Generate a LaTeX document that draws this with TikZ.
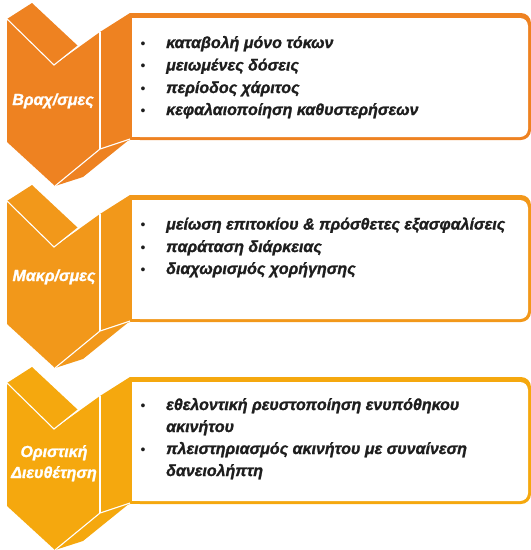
\documentclass[tikz,border=0pt]{standalone}
\usepackage{fontspec}
\setmainfont{Liberation Sans}[BoldItalicFeatures={FakeBold=1.3}]
\definecolor{cA}{RGB}{238,130,33}
\definecolor{cB}{RGB}{242,152,26}
\definecolor{cC}{RGB}{245,168,14}
\definecolor{txt}{RGB}{30,30,30}
\tikzset{
  fold/.style={white,line width=1.1pt},
  lbl/.style={anchor=base,text=white,font=\fontsize{16}{18}\selectfont\bfseries\itshape,inner sep=0pt},
  itm/.style={anchor=base west,text=txt,font=\fontsize{16}{18}\selectfont\bfseries\itshape,inner sep=0pt},
  bul/.style={anchor=base,text=txt,font=\fontsize{14}{16}\selectfont,inner sep=0pt}
}
\newcommand\chevrow[2]{%
 \begin{scope}[yshift=-#1pt]
  \fill[#2] (7,19) -- (32,3) -- (78,46) -- (54,65) -- cycle;
  \fill[#2] (7,19) -- (54,65) -- (100,32) -- (100,149) -- (55,186) -- (7,142) -- cycle;
  \fill[#2] (100,32) -- (130,13) -- (130,140) -- (100,149) -- cycle;
  \fill[#2] (100,149) -- (130,139) -- (83,177) -- (55,186) -- cycle;
  \fill[#2,rounded corners=10pt] (130,13) rectangle (531,140);
  \fill[#2] (130,13) rectangle (160,140);
  \fill[white,rounded corners=8pt] (132,18) rectangle (528,137);
  \fill[white] (132,18) rectangle (160,137);
  \draw[fold] (7,19) -- (54,65) -- (78,46);
  \draw[fold] (100,32) -- (100,149);
  \draw[fold] (130,139) -- (100,149) -- (55,186);
 \end{scope}}
\begin{document}
\begin{tikzpicture}[x=1pt,y=-1pt]
\useasboundingbox (0,0) rectangle (531,550);
\chevrow{0}{cA}
\chevrow{182}{cB}
\chevrow{364}{cC}
% row 1
\node[lbl] (l1) at (53,105) {Βραχ/σμες};
\node[bul] (b11) at (143,48) {•};
\node[itm] (t11) at (166,48) {καταβολή μόνο τόκων};
\node[bul] (b12) at (143,70.5) {•};
\node[itm] (t12) at (166,70.5) {μειωμένες δόσεις};
\node[bul] (b13) at (143,93) {•};
\node[itm] (t13) at (166,93) {περίοδος χάριτος};
\node[bul] (b14) at (143,115) {•};
\node[itm] (t14) at (166,115) {κεφαλαιοποίηση καθυστερήσεων};
% row 2
\node[lbl] (l2) at (54,281) {Μακρ/σμες};
\node[bul] (b21) at (143,229.5) {•};
\node[itm] (t21) at (166,229.5) {μείωση επιτοκίου \& πρόσθετες εξασφαλίσεις};
\node[bul] (b22) at (143,252) {•};
\node[itm] (t22) at (166,252) {παράταση διάρκειας};
\node[bul] (b23) at (143,274) {•};
\node[itm] (t23) at (166,274) {διαχωρισμός χορήγησης};
% row 3
\node[lbl] (l3a) at (54,457) {Οριστική};
\node[lbl] (l3b) at (54,478) {Διευθέτηση};
\node[bul] (b31) at (143,410) {•};
\node[itm] (t31) at (166,410) {εθελοντική ρευστοποίηση ενυπόθηκου};
\node[itm] (t32) at (166,432) {ακινήτου};
\node[bul] (b33) at (143,454) {•};
\node[itm] (t33) at (166,454) {πλειστηριασμός ακινήτου με συναίνεση};
\node[itm] (t34) at (166,476) {δανειολήπτη};
\end{tikzpicture}
\end{document}
